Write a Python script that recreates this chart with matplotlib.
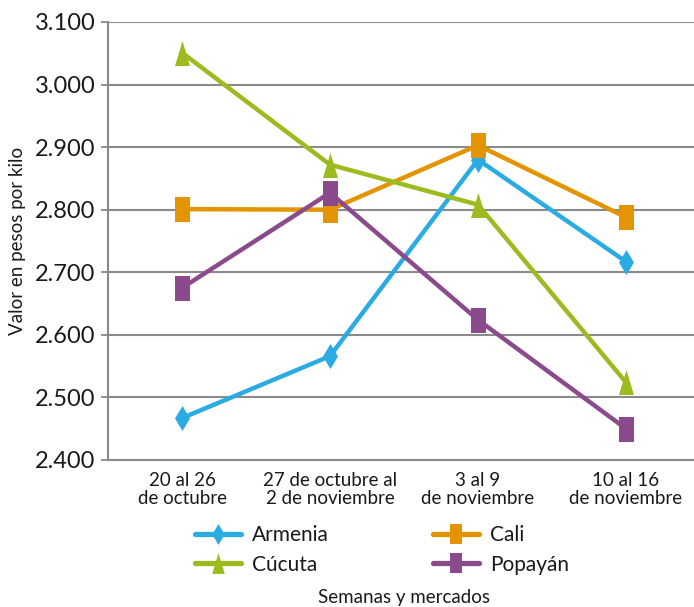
import matplotlib
matplotlib.use("Agg")
import matplotlib.pyplot as plt
from matplotlib.path import Path
from matplotlib.ticker import FuncFormatter, MultipleLocator
from matplotlib.lines import Line2D

categories = ["20 al 26\nde octubre", "27 de octubre al\n2 de noviembre",
              "3 al 9\nde noviembre", "10 al 16\nde noviembre"]
armenia = [2467, 2566, 2880, 2717]
cali = [2801, 2800, 2903, 2788]
cucuta = [3051, 2872, 2808, 2524]
popayan = [2675, 2827, 2624, 2450]

series_names = ["Armenia", "Cali", "Cúcuta", "Popayán"]
series_vals = [armenia, cali, cucuta, popayan]
colors = ["#2AABE2", "#E39400", "#9BBB1F", "#8B4A8C"]

w = 0.6
rect = Path([(-w/2, -0.5), (w/2, -0.5), (w/2, 0.5), (-w/2, 0.5), (-w/2, -0.5)],
            [Path.MOVETO, Path.LINETO, Path.LINETO, Path.LINETO, Path.CLOSEPOLY])
tri = Path([(-w/2, -0.5), (w/2, -0.5), (0, 0.5), (-w/2, -0.5)],
           [Path.MOVETO, Path.LINETO, Path.LINETO, Path.CLOSEPOLY])
dia = Path([(0, -0.5), (w/2, 0), (0, 0.5), (-w/2, 0), (0, -0.5)],
           [Path.MOVETO, Path.LINETO, Path.LINETO, Path.LINETO, Path.CLOSEPOLY])
markers = [dia, rect, tri, rect]

plt.rcParams['font.family'] = ['Lato', 'DejaVu Sans']
txt = "#1a1a1a"

fig = plt.figure(figsize=(6.94, 6.07), dpi=100)
ax = fig.add_axes([108/694, 1-460/607, 592/694, 438/607])

x = list(range(len(categories)))
for name, vals, c, m in zip(series_names, series_vals, colors, markers):
    ax.plot(x, vals, color=c, lw=3.2, marker=m, markersize=18,
            markeredgewidth=0, label=name, solid_capstyle='round')

ax.set_xlim(-0.5, 3.5)
ax.set_ylim(2400, 3100)
ax.yaxis.set_major_locator(MultipleLocator(100))
ax.yaxis.set_major_formatter(FuncFormatter(lambda v, p: f"{int(round(v)):,}".replace(",", ".")))
ax.set_xticks(x)
ax.set_xticklabels(categories, fontsize=13.5, color=txt, linespacing=1.05)
ax.tick_params(axis='x', length=0, pad=9)
ax.tick_params(axis='y', length=5, width=1.3, color="#8a8a8a", labelsize=17,
               labelcolor=txt, pad=4)
ax.grid(axis='y', color="#8a8a8a", lw=1.5)
ax.set_axisbelow(True)
for s in ["top", "right"]:
    ax.spines[s].set_visible(False)
for s in ["left", "bottom"]:
    ax.spines[s].set_color("#8a8a8a")
    ax.spines[s].set_linewidth(1.5)

ax.set_ylabel("Valor en pesos por kilo", fontsize=13.5, color=txt, labelpad=6)
fig.text(404/694, 1-597/607, "Semanas y mercados", ha='center', va='center',
         fontsize=13.5, color=txt)

handles = [Line2D([0], [0], color=c, lw=3.8, marker=m, markersize=15,
                  markeredgewidth=0, solid_capstyle='round')
           for c, m in zip(colors, markers)]
order = [0, 2, 1, 3]
leg = fig.legend([handles[i] for i in order], [series_names[i] for i in order],
                 ncol=2, loc='center', bbox_to_anchor=(382/694, 1-550/607),
                 frameon=False, fontsize=15, handlelength=2.2,
                 columnspacing=5.0, handletextpad=0.55, labelspacing=0.45)
for t in leg.get_texts():
    t.set_color(txt)

fig.savefig("out.png", dpi=100)
